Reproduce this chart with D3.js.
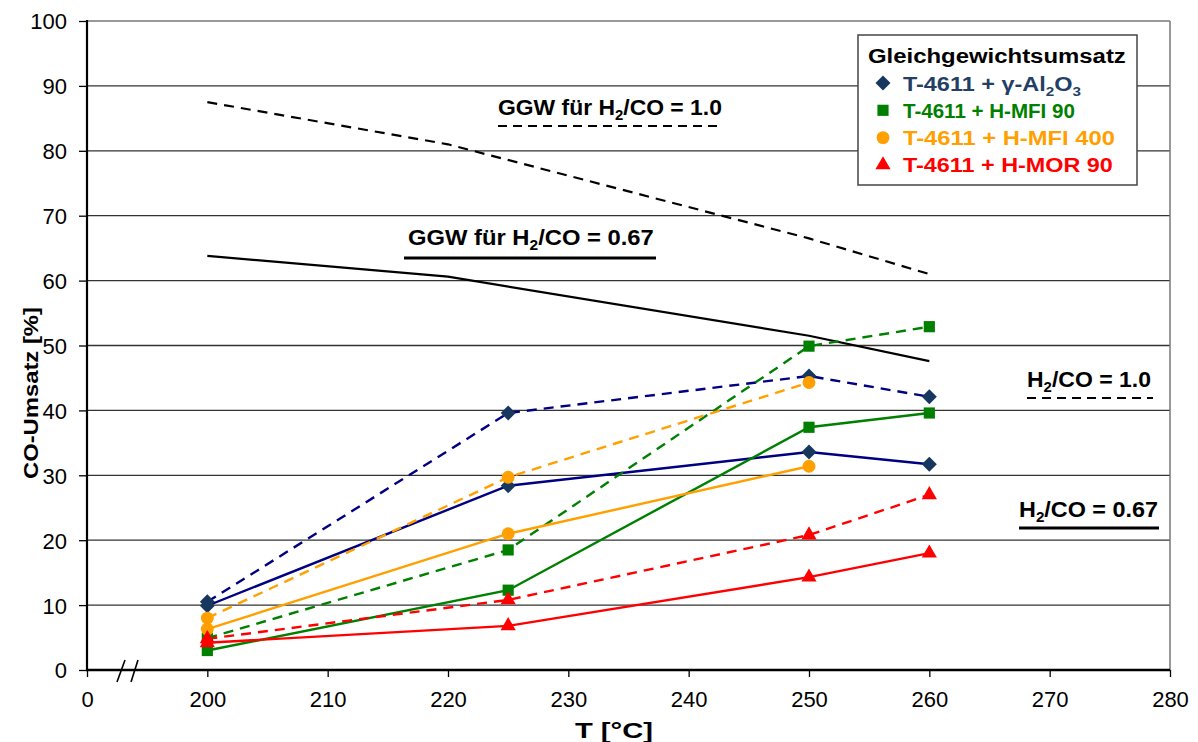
<!DOCTYPE html>
<html><head><meta charset="utf-8">
<script src="https://cdn.jsdelivr.net/npm/d3@7"></script>
<style>
body{margin:0;background:#fff;}
svg{display:block;font-family:"Liberation Sans",Arial,sans-serif;}
</style></head>
<body>
<svg id="chart" width="1198" height="742"></svg>
<script>
// ---- data ----
const temps = [200, 225, 250, 260];
const tempsMFI400 = [200, 225, 250];
const ggwTemps = [200, 220, 250, 260];

const ggw10 = [87.5, 81.0, 66.5, 61.0];
const ggw067 = [63.8, 60.6, 51.5, 47.6];

const al2o3_10 = [10.5, 39.6, 45.3, 42.1];
const al2o3_067 = [9.9, 28.4, 33.6, 31.7];
const mfi90_10 = [4.9, 18.5, 49.9, 52.9];
const mfi90_067 = [3.0, 12.3, 37.4, 39.6];
const mfi400_10 = [8.0, 29.7, 44.3];
const mfi400_067 = [6.3, 21.0, 31.4];
const mor90_10 = [4.8, 10.8, 20.8, 27.0];
const mor90_067 = [4.2, 6.8, 14.3, 18.0];

const xTicks = [190, 200, 210, 220, 230, 240, 250, 260, 270, 280];
const xTickLabels = ["0", "200", "210", "220", "230", "240", "250", "260", "270", "280"];
const yTicks = [0, 10, 20, 30, 40, 50, 60, 70, 80, 90, 100];

const legendTitle = "Gleichgewichtsumsatz";
const legendLabels = ["T-4611 + γ-Al|2|O|3", "T-4611 + H-MFI 90", "T-4611 + H-MFI 400", "T-4611 + H-MOR 90"];

// ---- setup ----
const svg = d3.select("#chart");
const x = d3.scaleLinear().domain([190, 280]).range([87, 1170]);
const y = d3.scaleLinear().domain([0, 100]).range([670, 21]);

const colors = {al: "#000080", alFill: "#17375E", alText: "#243F66", mfi90: "#008000", mfi400: "#FFA000", mor: "#FF0000"};

const series = [
  {t: temps, v: al2o3_10, color: colors.al, fill: colors.alFill, sym: "diamond", dash: true},
  {t: temps, v: al2o3_067, color: colors.al, fill: colors.alFill, sym: "diamond", dash: false},
  {t: temps, v: mfi90_10, color: colors.mfi90, fill: colors.mfi90, sym: "square", dash: true},
  {t: temps, v: mfi90_067, color: colors.mfi90, fill: colors.mfi90, sym: "square", dash: false},
  {t: tempsMFI400, v: mfi400_10, color: colors.mfi400, fill: colors.mfi400, sym: "circle", dash: true},
  {t: tempsMFI400, v: mfi400_067, color: colors.mfi400, fill: colors.mfi400, sym: "circle", dash: false},
  {t: temps, v: mor90_10, color: colors.mor, fill: colors.mor, sym: "triangle", dash: true},
  {t: temps, v: mor90_067, color: colors.mor, fill: colors.mor, sym: "triangle", dash: false},
];

function symbolPath(sym) {
  if (sym === "diamond") return d3.symbol().type(d3.symbolSquare).size(112)();
  if (sym === "square") return d3.symbol().type(d3.symbolSquare).size(125)();
  if (sym === "circle") return d3.symbol().type(d3.symbolCircle).size(130)();
  return d3.symbol().type(d3.symbolTriangle).size(100)();
}
function symbolTransform(sym, px, py) {
  return `translate(${px},${py})` + (sym === "diamond" ? " rotate(45)" : "");
}

// ---- grid ----
svg.append("g").selectAll("line").data(yTicks.filter(d => d > 0)).join("line")
  .attr("x1", x(190)).attr("x2", x(280))
  .attr("y1", d => y(d)).attr("y2", d => y(d))
  .attr("stroke", d => d === 100 ? "#777" : "#333").attr("stroke-width", 1.3);
svg.append("line").attr("x1", x(280)).attr("x2", x(280)).attr("y1", y(0)).attr("y2", y(100))
  .attr("stroke", "#777").attr("stroke-width", 1.5);

// ---- equilibrium lines ----
const line = d3.line().x(d => x(d[0])).y(d => y(d[1]));
svg.append("path").datum(ggwTemps.map((t, i) => [t, ggw10[i]])).attr("d", line)
  .attr("fill", "none").attr("stroke", "#000").attr("stroke-width", 2.2).attr("stroke-dasharray", "10,7");
svg.append("path").datum(ggwTemps.map((t, i) => [t, ggw067[i]])).attr("d", line)
  .attr("fill", "none").attr("stroke", "#000").attr("stroke-width", 2.2);

// ---- series lines ----
series.forEach(s => {
  svg.append("path").datum(s.t.map((t, i) => [t, s.v[i]])).attr("d", line)
    .attr("fill", "none").attr("stroke", s.color).attr("stroke-width", 2.4)
    .attr("stroke-dasharray", s.dash ? "10,7" : null);
});
series.forEach(s => {
  svg.append("g").selectAll("path").data(s.t.map((t, i) => [t, s.v[i]])).join("path")
    .attr("d", symbolPath(s.sym))
    .attr("transform", d => symbolTransform(s.sym, x(d[0]), y(d[1])))
    .attr("fill", s.fill);
});

// ---- axes ----
const yAxis = svg.append("g").attr("transform", `translate(${x(190)},0)`)
  .call(d3.axisLeft(y).tickValues(yTicks).tickSize(8).tickPadding(12).tickFormat(d3.format("d")));
yAxis.select(".domain").remove();
yAxis.selectAll(".tick line").attr("stroke", "#000").attr("stroke-width", 1.3);
yAxis.selectAll("text").attr("font-size", 22).attr("fill", "#000")
  .attr("font-family", "'Liberation Sans',Arial,sans-serif").attr("dy", "0.36em");

const xAxis = svg.append("g").attr("transform", `translate(0,${y(0)})`)
  .call(d3.axisBottom(x).tickValues(xTicks).tickSize(7).tickPadding(14)
    .tickFormat((d, i) => xTickLabels[i]));
xAxis.select(".domain").remove();
xAxis.selectAll(".tick line").attr("stroke", "#000").attr("stroke-width", 1.3);
xAxis.selectAll("text").attr("font-size", 22).attr("fill", "#000")
  .attr("font-family", "'Liberation Sans',Arial,sans-serif");

svg.append("line").attr("x1", x(190)).attr("x2", x(190)).attr("y1", y(100) - 1).attr("y2", y(0) + 1)
  .attr("stroke", "#000").attr("stroke-width", 2.2);
svg.append("line").attr("x1", x(190) - 1).attr("x2", x(280)).attr("y1", y(0)).attr("y2", y(0))
  .attr("stroke", "#000").attr("stroke-width", 2.4);

// axis break marks
[[125, 117], [138, 131]].forEach(p => {
  svg.append("line").attr("x1", p[0]).attr("y1", y(0) - 10).attr("x2", p[1]).attr("y2", y(0) + 12)
    .attr("stroke", "#000").attr("stroke-width", 1.6);
});

// ---- text helpers ----
function fitText(g, xPos, yPos, parts, opts) {
  const t = g.append("text").attr("font-size", opts.size).attr("font-weight", "bold")
    .attr("fill", opts.color || "#000");
  let sub = false;
  parts.forEach(p => {
    const ts = t.append("tspan").text(p[0]);
    if (p[1] && !sub) { ts.attr("font-size", opts.size * 0.65).attr("dy", opts.size * 0.25); sub = true; }
    else if (!p[1] && sub) { ts.attr("dy", -opts.size * 0.25); sub = false; }
    else if (p[1]) ts.attr("font-size", opts.size * 0.65);
  });
  const w = t.node().getComputedTextLength();
  const sx = opts.width ? opts.width / w : 1;
  let x0 = xPos;
  if (opts.anchor === "middle") x0 = xPos - opts.width / 2;
  t.attr("transform", `translate(${x0},${yPos}) scale(${sx},1)`);
  return t;
}
function splitParts(label) {
  return label.split("|").map((s, i) => [s, i % 2 === 1]);
}

// ---- annotations ----
const ann = svg.append("g");
fitText(ann, 498, 115, [["GGW für H", false], ["2", true], ["/CO = 1.0", false]], {size: 21.5, width: 224});
ann.append("line").attr("x1", 498).attr("x2", 721).attr("y1", 126).attr("y2", 126)
  .attr("stroke", "#000").attr("stroke-width", 2).attr("stroke-dasharray", "9,6");
fitText(ann, 408, 245, [["GGW für H", false], ["2", true], ["/CO = 0.67", false]], {size: 21.5, width: 246});
ann.append("line").attr("x1", 404).attr("x2", 656).attr("y1", 258).attr("y2", 258)
  .attr("stroke", "#000").attr("stroke-width", 3);
fitText(ann, 1027, 387, [["H", false], ["2", true], ["/CO = 1.0", false]], {size: 21.5, width: 124});
ann.append("line").attr("x1", 1027).attr("x2", 1153).attr("y1", 398).attr("y2", 398)
  .attr("stroke", "#000").attr("stroke-width", 2).attr("stroke-dasharray", "9,6");
fitText(ann, 1019, 517, [["H", false], ["2", true], ["/CO = 0.67", false]], {size: 21.5, width: 139});
ann.append("line").attr("x1", 1019).attr("x2", 1159).attr("y1", 528).attr("y2", 528)
  .attr("stroke", "#000").attr("stroke-width", 3);

// ---- axis titles ----
fitText(svg, 614, 738, [["T [°C]", false]], {size: 22, width: 78, anchor: "middle"});
const yt = svg.append("g").attr("transform", "translate(38,393) rotate(-90)");
fitText(yt, 0, 0, [["CO-Umsatz  [%]", false]], {size: 21, width: 172, anchor: "middle"});

// ---- legend ----
const lg = svg.append("g");
lg.append("rect").attr("x", 858).attr("y", 35).attr("width", 279).attr("height", 150)
  .attr("fill", "#fff").attr("stroke", "#444").attr("stroke-width", 1.5);
fitText(lg, 997, 63, [[legendTitle, false]], {size: 20.5, width: 258, anchor: "middle"});
const legendColors = [colors.alText, colors.mfi90, colors.mfi400, colors.mor];
const legendFills = [colors.alFill, colors.mfi90, colors.mfi400, colors.mor];
const legendSyms = ["diamond", "square", "circle", "triangle"];
const legendWidths = [178, 172, 212, 210];
legendLabels.forEach((lab, i) => {
  const cy = 83 + i * 27.3;
  lg.append("path").attr("d", symbolPath(legendSyms[i]))
    .attr("transform", symbolTransform(legendSyms[i], 883, cy)).attr("fill", legendFills[i]);
  fitText(lg, 903, cy + 7.5, splitParts(lab), {size: 20, width: legendWidths[i], color: legendColors[i]});
});
</script>
</body></html>
